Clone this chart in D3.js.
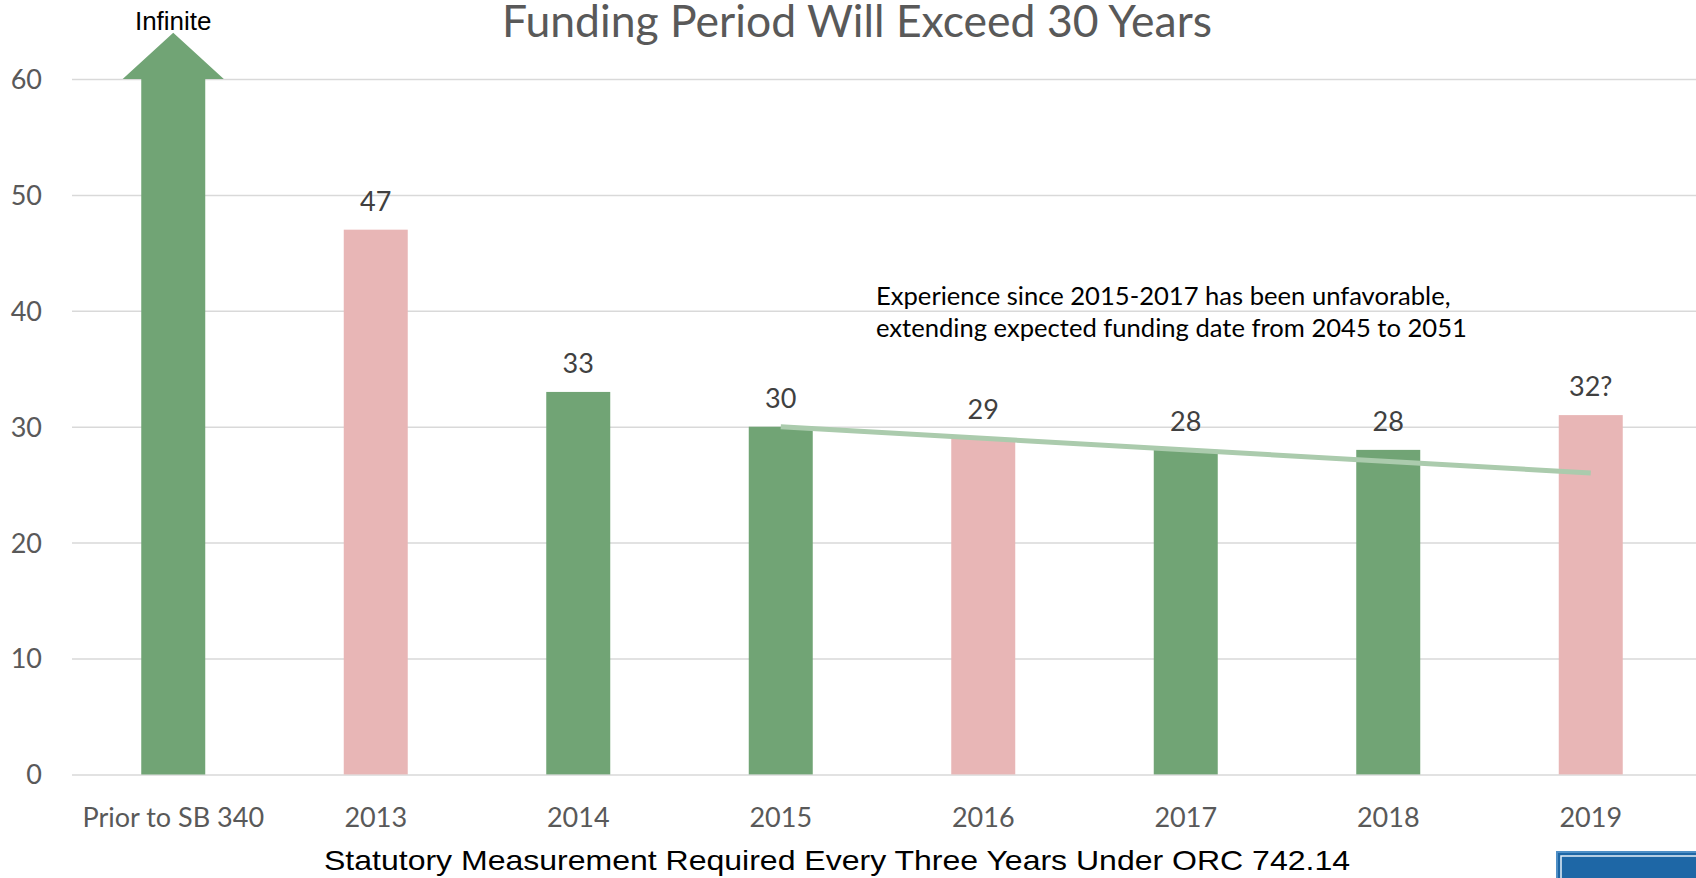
<!DOCTYPE html>
<html lang="en">

<head>
    <meta charset="UTF-8">
    <title>Funding Period</title>
    <style>
        body {
            margin: 0;
            background: #fff;
        }

        .grid line {
            stroke: #d9d9d9;
            stroke-width: 1.5px;
        }

        .grid text,
        .xaxis text {
            font: 27px Lato, "Open Sans", sans-serif;
            fill: #595959;
        }

        .value {
            font: 27px Lato, "Open Sans", sans-serif;
            fill: #404040;
            text-anchor: middle;
        }

        .note {
            font: 25.6px Lato, "Open Sans", sans-serif;
            fill: #000;
        }
    </style>
</head>

<body>
    <script src="https://d3js.org/d3.v7.min.js"></script>
    <script>
        const categories = ["Prior to SB 340", "2013", "2014", "2015", "2016", "2017", "2018", "2019"];
        const values = [null, 47, 33, 30, 29, 28, 28, 31];
        const labels = ["Infinite", "47", "33", "30", "29", "28", "28", "32?"];
        const colors = ["#71a475", "#e8b6b6", "#71a475", "#71a475", "#e8b6b6", "#71a475", "#71a475", "#e8b6b6"];
        const yTicks = [0, 10, 20, 30, 40, 50, 60];
        // trend line drawn over the last bars
        const trend = [{ cat: "2015", v: 30 }, { cat: "2019", v: 26 }];
        // arrow for the "infinite" bar, in axis units
        const arrowHeadBase = 60;
        const arrowTip = 64;
        const noteLines = [
            "Experience since 2015-2017 has been unfavorable,",
            "extending expected funding date from 2045 to 2051"
        ];

        const width = 1696;
        const height = 878;
        const left = 72;

        const svg = d3.select("body").append("svg")
            .attr("width", width)
            .attr("height", height);

        const x = d3.scaleBand()
            .domain(categories)
            .range([left, 1692])
            .paddingInner(0.684)
            .paddingOuter(0.342);

        const y = d3.scaleLinear()
            .domain([0, 60])
            .range([774.4, 79]);

        // gridlines + y labels
        const grid = svg.append("g")
            .attr("class", "grid")
            .attr("transform", `translate(${left},0)`)
            .call(d3.axisLeft(y).tickValues(yTicks).tickSize(-(width - left)).tickPadding(30));
        grid.select(".domain").remove();
        grid.selectAll("text").attr("dy", "0.35em");

        // x labels
        const xaxis = svg.append("g")
            .attr("class", "xaxis")
            .attr("transform", `translate(0,${y(0)})`)
            .call(d3.axisBottom(x).tickSize(0));
        xaxis.select(".domain").remove();
        xaxis.selectAll("text").attr("y", 52.6).attr("dy", 0);

        const data = categories.map((c, i) => ({ cat: c, v: values[i], label: labels[i], color: colors[i] }));
        const bw = x.bandwidth();

        // normal bars
        svg.selectAll(".bar")
            .data(data.filter(d => d.v !== null))
            .join("rect")
            .attr("class", "bar")
            .attr("x", d => x(d.cat))
            .attr("y", d => y(d.v))
            .attr("width", bw)
            .attr("height", d => y(0) - y(d.v))
            .attr("fill", d => d.color);

        // arrow bar
        const a = data[0];
        const ax = x(a.cat);
        const cx = ax + bw / 2;
        const headHalf = bw * 0.79;
        const arrowPts = [
            [ax, y(0)], [ax, y(arrowHeadBase)], [cx - headHalf, y(arrowHeadBase)],
            [cx, y(arrowTip)],
            [cx + headHalf, y(arrowHeadBase)], [ax + bw, y(arrowHeadBase)], [ax + bw, y(0)]
        ];
        svg.append("path")
            .attr("d", d3.line()(arrowPts) + "Z")
            .attr("fill", a.color);

        svg.append("text")
            .attr("x", cx)
            .attr("y", 30)
            .attr("text-anchor", "middle")
            .style("font", "26px 'Liberation Sans', Arial, sans-serif")
            .attr("fill", "#000")
            .text(a.label);

        // value labels
        svg.selectAll(".value")
            .data(data.filter(d => d.v !== null))
            .join("text")
            .attr("class", "value")
            .attr("x", d => x(d.cat) + bw / 2)
            .attr("y", d => y(d.v) - 19)
            .text(d => d.label);

        // trend line
        svg.append("path")
            .datum(trend)
            .attr("d", d3.line().x(d => x(d.cat) + bw / 2).y(d => y(d.v)))
            .attr("fill", "none")
            .attr("stroke", "#abcbad")
            .attr("stroke-width", 5);

        // note
        svg.append("g").selectAll("text")
            .data(noteLines)
            .join("text")
            .attr("class", "note")
            .attr("x", 876)
            .attr("y", (d, i) => 305 + i * 32)
            .text(d => d);

        // title (sits at the very top)
        svg.append("text")
            .attr("x", 857)
            .attr("y", 37)
            .attr("text-anchor", "middle")
            .style("font", "44.5px Lato, 'Open Sans', sans-serif")
            .attr("fill", "#595959")
            .text("Funding Period Will Exceed 30 Years");

        // x axis title
        svg.append("text")
            .attr("x", 324)
            .attr("y", 870)
            .attr("textLength", 1026)
            .attr("lengthAdjust", "spacingAndGlyphs")
            .style("font", "28px 'Liberation Sans', Arial, sans-serif")
            .attr("fill", "#000")
            .text("Statutory Measurement Required Every Three Years Under ORC 742.14");

        // logo corner, cut off
        svg.append("rect")
            .attr("x", 1557)
            .attr("y", 852)
            .attr("width", 150)
            .attr("height", 40)
            .attr("fill", "#1e67a6")
            .attr("stroke", "#4f8fc6")
            .attr("stroke-width", 2);
        svg.append("rect")
            .attr("x", 1561)
            .attr("y", 856)
            .attr("width", 150)
            .attr("height", 40)
            .attr("fill", "none")
            .attr("stroke", "#e6f0f8")
            .attr("stroke-width", 1.5);
    </script>
</body>

</html>
